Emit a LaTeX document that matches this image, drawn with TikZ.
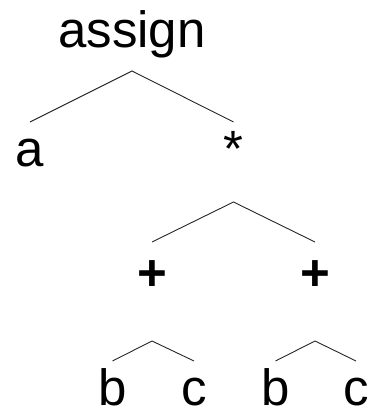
\documentclass[tikz,border=0pt]{standalone}
\usepackage{fontspec}
\setmainfont{Liberation Sans}
\begin{document}
\begin{tikzpicture}[x=1pt,y=-1pt,
  lbl/.style={anchor=base,inner sep=0pt,font=\fontsize{51}{60}\selectfont},
  op/.style={lbl,font=\fontsize{51}{60}\selectfont\bfseries},
  edge/.style={line width=0.9pt,black!85}]
\useasboundingbox (0,0) rectangle (373,411);
% tree nodes
\node[lbl] (assign) at (132,48) {assign};
\node[lbl] (a) at (30,167) {a};
\node[lbl] (star) at (233.5,167) {*};
\node[op] (p1) at (152,290) {+};
\node[op] (p2) at (315,290) {+};
\node[lbl] (b1) at (112.5,405) {b};
\node[lbl] (c1) at (194,405) {c};
\node[lbl] (b2) at (275.5,405) {b};
\node[lbl] (c2) at (356,405) {c};
% branches
\draw[edge] (a.base |- 0,122) -- (assign.base |- 0,71) -- (star.base |- 0,122);
\draw[edge] (p1.base |- 0,242) -- (star.base |- 0,202) -- (p2.base |- 0,242);
\draw[edge] (b1.base |- 0,361) -- (p1.base |- 0,341) -- (c1.base |- 0,361);
\draw[edge] (b2.base |- 0,361) -- (p2.base |- 0,341) -- (c2.base |- 0,361);
\end{tikzpicture}
\end{document}
